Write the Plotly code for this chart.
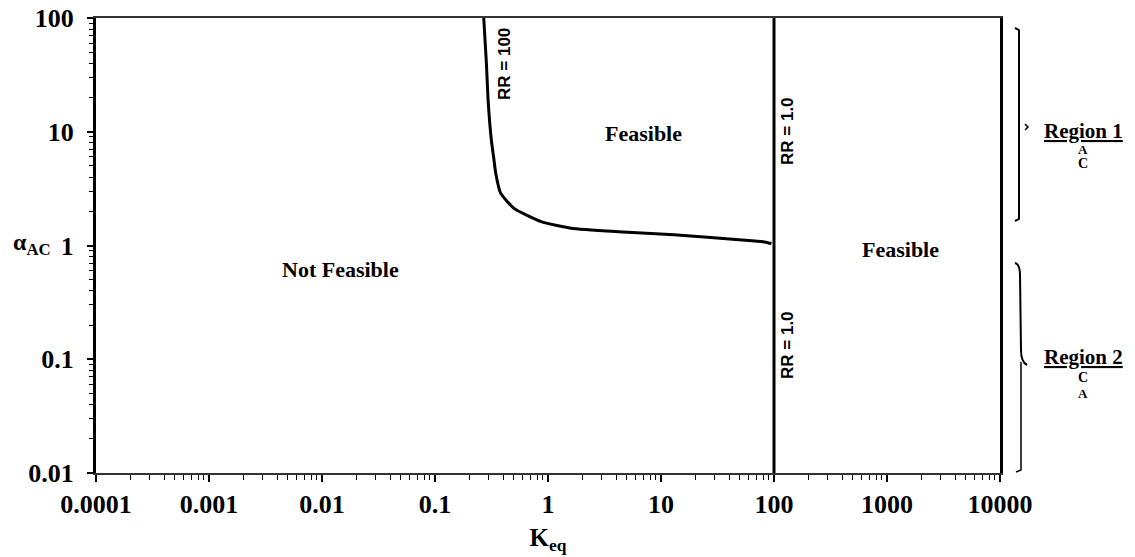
import plotly.graph_objects as go

# ---- data ----
rr100_keq = [0.27, 0.285, 0.295, 0.315, 0.33, 0.345, 0.38, 0.50, 0.87, 1.6, 4.2, 13.0, 52.0, 80.0, 95.0]
rr100_alpha = [100, 40, 19, 8.5, 6.0, 4.3, 2.9, 2.12, 1.62, 1.42, 1.32, 1.24, 1.12, 1.08, 1.04]
rr1_keq = [100, 100]
rr1_alpha = [0.01, 100]

x_tickvals = [1e-4, 1e-3, 1e-2, 1e-1, 1, 10, 100, 1000, 10000]
x_ticktext = ["0.0001", "0.001", "0.01", "0.1", "1", "10", "100", "1000", "10000"]
y_tickvals = [0.01, 0.1, 1, 10, 100]
y_ticktext = ["0.01", "0.1", "1", "10", "100"]

region_labels = ["Region 1", "Region 2"]
region_sub = [["A", "C"], ["C", "A"]]

SERIF = "Liberation Serif, Times New Roman, serif"
NARROW = "Liberation Sans Narrow, Liberation Sans, Arial, sans-serif"

minor_x = [m * 10 ** e for e in range(-4, 4) for m in range(2, 10)]
minor_y = [m * 10 ** e for e in range(-2, 2) for m in range(2, 10)]

fig = go.Figure()
fig.add_trace(go.Scatter(x=rr100_keq, y=rr100_alpha, mode="lines",
                         line=dict(color="black", width=3, shape="spline", smoothing=0.5),
                         showlegend=False, hoverinfo="skip"))
fig.add_trace(go.Scatter(x=rr1_keq, y=rr1_alpha, mode="lines",
                         line=dict(color="black", width=3),
                         showlegend=False, hoverinfo="skip"))

fig.update_layout(
    width=1135, height=557,
    margin=dict(l=96, r=135, t=18, b=84),
    paper_bgcolor="white", plot_bgcolor="white",
    xaxis=dict(type="log", range=[-4, 4], tickvals=x_tickvals, ticktext=x_ticktext,
               automargin=False, ticklabeloverflow="allow",
               ticks="outside", ticklen=7, tickwidth=1.5, tickcolor="black",
               minor=dict(tickvals=minor_x, ticks="outside", ticklen=5, tickwidth=1, tickcolor="black"),
               showline=True, linecolor="#333", linewidth=2, mirror=True,
               showgrid=False, zeroline=False,
               tickfont=dict(family=SERIF, size=26, color="black", weight="bold"),
               title=dict(text="K<sub>eq</sub>", standoff=10,
                          font=dict(family=SERIF, size=25, color="black", weight="bold"))),
    yaxis=dict(type="log", range=[-2, 2], tickvals=y_tickvals, ticktext=y_ticktext,
               automargin=False, ticklabeloverflow="allow",
               ticks="outside", ticklen=6, tickwidth=1.5, tickcolor="black",
               minor=dict(tickvals=minor_y, ticks="outside", ticklen=4, tickwidth=1, tickcolor="black"),
               showline=True, linecolor="black", linewidth=3, mirror=True,
               showgrid=False, zeroline=False, ticklabelstandoff=8,
               tickfont=dict(family=SERIF, size=26, color="black", weight="bold")),
)

# positions below are given in pixels of the figure (plot area 96..1000 x 18..473)
def px2paper(px, py):
    return (px - 96) / 904.0, (473 - py) / 455.0

def ann(text, px, py, size=22, family=SERIF, angle=0, xanchor="center"):
    x, y = px2paper(px, py)
    fig.add_annotation(x=x, y=y, xref="paper", yref="paper", text=text, showarrow=False,
                       textangle=angle, xanchor=xanchor, yanchor="middle",
                       font=dict(family=family, size=size, color="black", weight="bold"))

# region labels in plot
ann("Feasible", 643, 133)
ann("Feasible", 900, 250)
ann("Not Feasible", 340, 269)
ann("RR = 100", 505, 64, size=17, family=NARROW, angle=-90)
ann("RR = 1.0", 787, 131, size=17, family=NARROW, angle=-90)
ann("RR = 1.0", 787, 345, size=17, family=NARROW, angle=-90)
ann("α<sub>AC</sub>", 32, 244, size=24)

# right side regions
ann("<u>" + region_labels[0] + "</u>", 1083, 131, size=21)
ann(region_sub[0][0], 1083, 149, size=13)
ann(region_sub[0][1], 1083, 163, size=14)
ann("<u>" + region_labels[1] + "</u>", 1083, 357, size=21)
ann(region_sub[1][0], 1083, 377, size=14)
ann(region_sub[1][1], 1083, 393, size=13)

def P(px, py):
    x, y = px2paper(px, py)
    return f"{x:.5f},{y:.5f}"

# Region 1 bracket
fig.add_shape(type="path", xref="paper", yref="paper",
              path=f"M {P(1015,28)} L {P(1019,30)} L {P(1019,219)} L {P(1015,221)}",
              line=dict(color="black", width=2))
fig.add_shape(type="path", xref="paper", yref="paper",
              path=f"M {P(1025,124)} L {P(1028,127)} L {P(1025,130)}",
              line=dict(color="black", width=1.5))
# Region 2 curly brace
fig.add_shape(type="path", xref="paper", yref="paper",
              path=(f"M {P(1015,263)} Q {P(1020,264)} {P(1020,275)} L {P(1021,350)} "
                    f"Q {P(1021,362)} {P(1027,365)}"),
              line=dict(color="black", width=2))
fig.add_shape(type="path", xref="paper", yref="paper",
              path=f"M {P(1021,362)} L {P(1021,470)} L {P(1016,472)}",
              line=dict(color="black", width=1.5))

fig.write_html("out.html", config={"displayModeBar": False},
               post_script="document.body.style.margin='0';")
